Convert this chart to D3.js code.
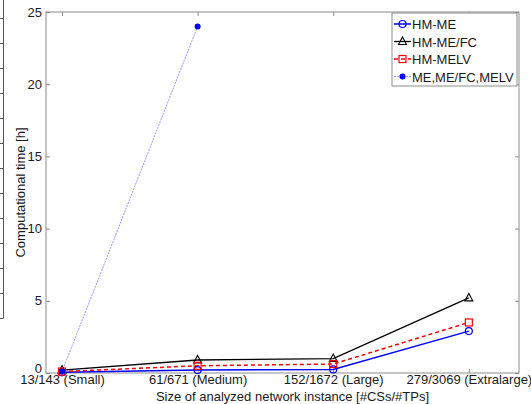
<!DOCTYPE html>
<html>
<head>
<meta charset="utf-8">
<script src="https://cdn.jsdelivr.net/npm/d3@7"></script>
<style>
  body { margin: 0; background: #fff; }
  svg { display: block; font-family: "Liberation Sans", Arial, sans-serif; }
  .axis path, .axis line { stroke: #8c8c8c; }
  .axis text { fill: #1a1a1a; font-size: 13px; }
</style>
</head>
<body>
<div id="chart"></div>
<script>
// chart data
var categories = ["13/143 (Small)", "61/671 (Medium)", "152/1672 (Large)", "279/3069 (Extralarge)"];
var hmMe   = [0.05, 0.2, 0.25, 2.9];
var hmMeFc = [0.2, 0.9, 1.0, 5.2];
var hmMelv = [0.1, 0.5, 0.62, 3.5];
var exact  = [0.1, 24.0];
var yTicks = [0, 5, 10, 15, 20, 25];

var width = 531, height = 404;
var margin = {top: 12, left: 46, bottom: 31, right: 12};

var svg = d3.select("#chart").append("svg")
    .attr("width", width)
    .attr("height", height);

// piece of neighbouring table at the left edge
var edge = svg.append("g").attr("stroke", "#555").attr("stroke-width", 1);
edge.append("line").attr("x1", 3.5).attr("x2", 3.5).attr("y1", 0).attr("y2", 318);
d3.range(13).forEach(function (k) {
    edge.append("line").attr("x1", 0).attr("x2", 3.5)
        .attr("y1", 18.5 + 25 * k).attr("y2", 18.5 + 25 * k);
});

var x = d3.scaleLinear().domain([0.882, 4.37]).range([margin.left, width - margin.right]);
var y = d3.scaleLinear().domain([0, 25]).range([height - margin.bottom, margin.top]);

var x0 = x.range()[0], x1 = x.range()[1], y0 = y.range()[0], y1 = y.range()[1];
var catIdx = categories.map(function (d, i) { return i + 1; });

// box
svg.append("rect")
    .attr("x", x0).attr("y", y1)
    .attr("width", x1 - x0).attr("height", y0 - y1)
    .attr("fill", "none").attr("stroke", "#8c8c8c");

// axes
var xAxis = d3.axisBottom(x).tickValues(catIdx)
    .tickFormat(function (d, i) { return categories[i]; })
    .tickSizeInner(-4).tickSizeOuter(0).tickPadding(2);
svg.append("g").attr("class", "x axis")
    .attr("transform", "translate(0," + y0 + ")")
    .call(xAxis)
    .call(function (g) { g.select(".domain").remove(); });

svg.append("g").attr("class", "x axis top")
    .attr("transform", "translate(0," + y1 + ")")
    .call(d3.axisTop(x).tickValues(catIdx).tickFormat("").tickSizeInner(-4).tickSizeOuter(0))
    .call(function (g) { g.select(".domain").remove(); });

var yAxis = d3.axisLeft(y).tickValues(yTicks).tickSizeInner(-4).tickSizeOuter(0).tickPadding(4);
svg.append("g").attr("class", "y axis")
    .attr("transform", "translate(" + x0 + ",0)")
    .call(yAxis)
    .call(function (g) {
        g.select(".domain").remove();
        // lift the zero so it sits above the first category label
        g.selectAll(".tick text").filter(function (d) { return d === 0; }).attr("dy", "-0.05em");
    });

svg.append("g").attr("class", "y axis right")
    .attr("transform", "translate(" + x1 + ",0)")
    .call(d3.axisRight(y).tickValues(yTicks).tickFormat("").tickSizeInner(-4).tickSizeOuter(0))
    .call(function (g) { g.select(".domain").remove(); });

// axis titles
svg.append("text")
    .attr("x", (x0 + x1) / 2 + 10).attr("y", 401)
    .attr("text-anchor", "middle")
    .attr("font-size", 13).attr("fill", "#1a1a1a")
    .text("Size of analyzed network instance [#CSs/#TPs]");

svg.append("text")
    .attr("transform", "translate(25," + ((y0 + y1) / 2) + ") rotate(-90)")
    .attr("text-anchor", "middle")
    .attr("font-size", 13).attr("fill", "#1a1a1a")
    .text("Computational time [h]");

// series
var series = [
    {name: "HM-ME", values: hmMe, color: "#0000ff", dash: null, marker: "circle", width: 1.5},
    {name: "HM-ME/FC", values: hmMeFc, color: "#000000", dash: null, marker: "triangle", width: 1.3},
    {name: "HM-MELV", values: hmMelv, color: "#ff0000", dash: "4,3", marker: "square", width: 1.5},
    {name: "ME,ME/FC,MELV", values: exact, color: "#9999ff", dash: "2,1", marker: "dot", width: 1}
];

var line = d3.line()
    .x(function (d, i) { return x(i + 1); })
    .y(function (d) { return y(d); });

function drawMarker(g, type, cx, cy) {
    if (type === "circle") {
        g.append("circle").attr("cx", cx).attr("cy", cy).attr("r", 3.5)
            .attr("fill", "none").attr("stroke", "#0000ff").attr("stroke-width", 1.2);
    } else if (type === "triangle") {
        g.append("path")
            .attr("d", "M" + cx + "," + (cy - 4.5) + "L" + (cx + 4) + "," + (cy + 3) + "L" + (cx - 4) + "," + (cy + 3) + "Z")
            .attr("fill", "none").attr("stroke", "#000").attr("stroke-width", 1.1);
    } else if (type === "square") {
        g.append("rect").attr("x", cx - 3.5).attr("y", cy - 3.5).attr("width", 7).attr("height", 7)
            .attr("fill", "none").attr("stroke", "#ff0000").attr("stroke-width", 1.2);
    } else {
        g.append("circle").attr("cx", cx).attr("cy", cy).attr("r", 3)
            .attr("fill", "#0000ff").attr("stroke", "none");
    }
}

series.forEach(function (s) {
    svg.append("path")
        .attr("d", line(s.values))
        .attr("fill", "none")
        .attr("stroke", s.color)
        .attr("stroke-width", s.width)
        .attr("stroke-dasharray", s.dash);
});
series.forEach(function (s) {
    var g = svg.append("g");
    s.values.forEach(function (v, i) {
        drawMarker(g, s.marker, x(i + 1), y(v));
    });
});

// legend
var legend = svg.append("g").attr("transform", "translate(392,13)");
legend.append("rect")
    .attr("width", 125).attr("height", 73)
    .attr("fill", "#fff").attr("stroke", "#8c8c8c");
series.forEach(function (s, i) {
    var ly = 11 + i * 17.5;
    var row = legend.append("g");
    row.append("line")
        .attr("x1", 2).attr("x2", 19).attr("y1", ly).attr("y2", ly)
        .attr("stroke", s.color).attr("stroke-width", s.width)
        .attr("stroke-dasharray", s.dash);
    drawMarker(row, s.marker, 10.5, ly);
    row.append("text")
        .attr("x", 20).attr("y", ly + 5)
        .attr("font-size", 13).attr("fill", "#1a1a1a")
        .text(s.name);
});
</script>
</body>
</html>
